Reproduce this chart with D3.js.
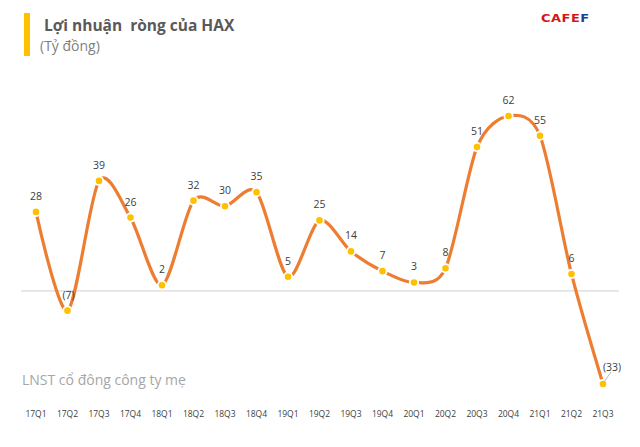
<!DOCTYPE html>
<html><head><meta charset="utf-8">
<script src="https://cdn.jsdelivr.net/npm/d3@7"></script>
<style>body{margin:0;background:#fff}svg{display:block}</style>
</head><body>
<svg id="c" width="640" height="447"></svg>
<script>
const categories = ["17Q1","17Q2","17Q3","17Q4","18Q1","18Q2","18Q3","18Q4","19Q1","19Q2","19Q3","19Q4","20Q1","20Q2","20Q3","20Q4","21Q1","21Q2","21Q3"];
const values = [28,-7,39,26,2,32,30,35,5,25,14,7,3,8,51,62,55,6,-33];
const labels = ["28","(7)","39","26","2","32","30","35","5","25","14","7","3","8","51","62","55","6","(33)"];

const svg = d3.select("#c");
const x = d3.scalePoint().domain(categories).range([36, 603]);
const y = d3.scaleLinear().domain([-33, 62]).range([384, 116]);

// title
svg.append("rect").attr("x",24).attr("y",13).attr("width",6).attr("height",43).attr("fill","#FFC000");
svg.append("text").attr("x",44).attr("y",31).attr("font-family","Open Sans, sans-serif").attr("font-size",15.5).attr("font-weight","bold").attr("fill","#595959").style("white-space","pre").text("Lợi nhuận  ròng của HAX");
svg.append("text").attr("x",40).attr("y",51).attr("font-family","Open Sans, sans-serif").attr("font-size",14).attr("fill","#7f7f7f").text("(Tỷ đồng)");

// logo
const logo = svg.append("text").attr("x",541).attr("y",22).attr("font-family","DejaVu Sans, sans-serif").attr("font-size",13).attr("font-weight","bold").attr("letter-spacing",0.5).attr("transform","scale(1,0.85)").attr("transform-origin","541 22");
logo.append("tspan").attr("fill","#d7141a").text("CAFE");
logo.append("tspan").attr("fill","#1b3f94").text("F");

// zero line
svg.append("line").attr("x1",21).attr("x2",619).attr("y1",y(0)).attr("y2",y(0)).attr("stroke","#d9d9d9").attr("stroke-width",1.3);

// x labels
svg.append("g").selectAll("text").data(categories).join("text")
  .attr("x",d=>x(d)).attr("y",417).attr("text-anchor","middle")
  .attr("font-family","Open Sans, sans-serif").attr("font-size",8.5).attr("fill","#404040").text(d=>d);

// legend-like text
svg.append("text").attr("x",22).attr("y",385).attr("font-family","Open Sans, sans-serif").attr("font-size",14).attr("fill","#a6a6a6").text("LNST cổ đông công ty mẹ");

const data = categories.map((c,i)=>({c, v:values[i], l:labels[i]}));
const line = d3.line().x(d=>x(d.c)).y(d=>y(d.v)).curve(d3.curveCardinal.tension(0.15));
svg.append("path").datum(data).attr("d",line).attr("fill","none").attr("stroke","#ED7D31").attr("stroke-width",3.2).attr("stroke-linecap","round");

svg.append("g").selectAll("circle").data(data).join("circle")
  .attr("cx",d=>x(d.c)).attr("cy",d=>y(d.v)).attr("r",4.2)
  .attr("fill","#FFC000").attr("stroke","#fff").attr("stroke-width",1.8);

// leader for last
const last = data[data.length-1];
svg.append("line").attr("x1",x(last.c)+1).attr("y1",y(last.v)-2).attr("x2",x(last.c)+8).attr("y2",y(last.v)-12).attr("stroke","#a6a6a6").attr("stroke-width",0.8);

svg.append("g").selectAll("text").data(data).join("text")
  .attr("x",(d,i)=> i===data.length-1 ? x(d.c)+9 : x(d.c)+ (i===1?1:0))
  .attr("y",(d,i)=> i===data.length-1 ? y(d.v)-13 : y(d.v)-12)
  .attr("text-anchor","middle")
  .attr("font-family","Open Sans, sans-serif").attr("font-size",10.5).attr("fill","#404040").text(d=>d.l);
</script>
</body></html>
